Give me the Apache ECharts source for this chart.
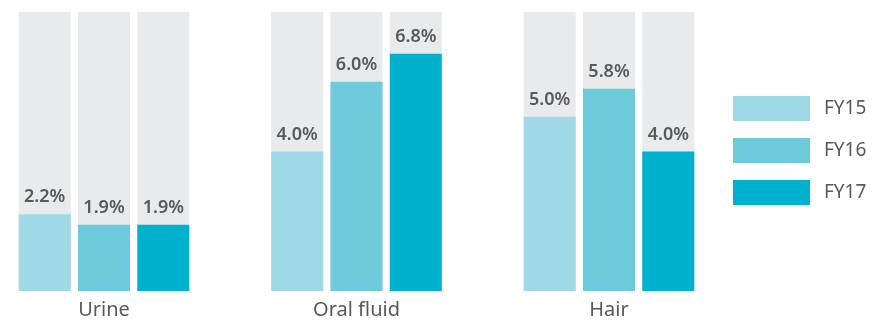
<!DOCTYPE html>
<html>
<head>
<meta charset="utf-8">
<script src="https://cdn.jsdelivr.net/npm/echarts@6/dist/echarts.min.js"></script>
<style>
  html, body { margin: 0; padding: 0; background: #fff; }
  #chart { width: 884px; height: 322px; }
</style>
</head>
<body>
<div id="chart"></div>
<script>
const categories = ["Urine", "Oral fluid", "Hair"];
const fy15 = [2.2, 4.0, 5.0];
const fy16 = [1.9, 6.0, 5.8];
const fy17 = [1.9, 6.8, 4.0];
const seriesNames = ["FY15", "FY16", "FY17"];
const colors = ["#a0d9e6", "#6ccadb", "#00b1cd"];

const myChart = echarts.init(document.getElementById("chart"));

function makeSeries(name, data, color) {
  return {
    type: "bar",
    name: name,
    data: data,
    barWidth: 52,
    barGap: "14%",
    itemStyle: { color: color },
    showBackground: true,
    backgroundStyle: { color: "#e9eaec" },
    label: {
      show: true,
      position: "top",
      distance: 8,
      color: "#58595b",
      fontFamily: "Noto Sans",
      fontSize: 18,
      fontWeight: 600,
      formatter: (p) => p.value.toFixed(1) + "%",
    },
  };
}

myChart.setOption({
  animation: false,
  textStyle: { fontFamily: "Noto Sans" },
  grid: {
    left: 104,
    width: 505,
    top: 12,
    bottom: 31,
  },
  legend: {
    orient: "vertical",
    left: 728,
    top: 91,
    icon: "rect",
    itemWidth: 77,
    itemHeight: 25,
    itemGap: 17,
    textStyle: {
      color: "#58595b",
      fontSize: 19,
      padding: [0, 0, 0, 9],
    },
    data: seriesNames,
  },
  xAxis: {
    type: "category",
    data: categories,
    boundaryGap: false,
    axisLine: { show: false },
    axisTick: { show: false },
    axisLabel: {
      color: "#58595b",
      fontSize: 20,
      margin: 9,
    },
  },
  yAxis: {
    type: "value",
    min: 0,
    max: 8,
    show: false,
    splitLine: { show: false },
  },
  series: [
    makeSeries(seriesNames[0], fy15, colors[0]),
    makeSeries(seriesNames[1], fy16, colors[1]),
    makeSeries(seriesNames[2], fy17, colors[2]),
  ],
});
</script>
</body>
</html>
